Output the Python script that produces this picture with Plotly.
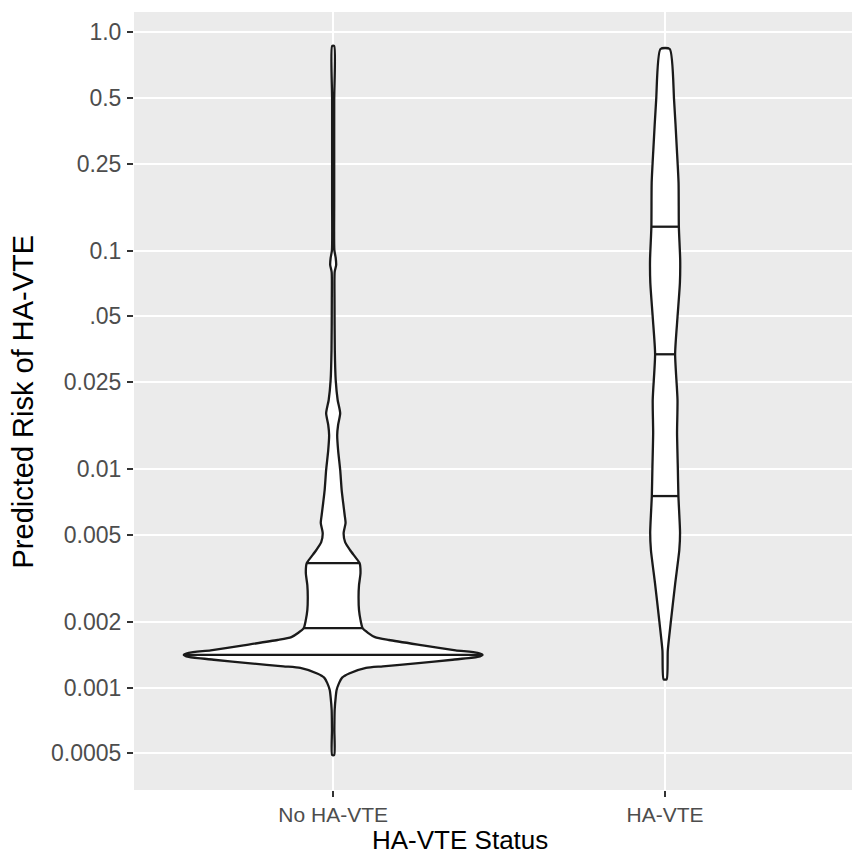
import numpy as np
import plotly.graph_objects as go

# Groups on the x axis
groups = ["No HA-VTE", "HA-VTE"]

# Density profile of predicted risk, No HA-VTE group
# (risk value, relative density scaled so the widest peak = 1)
no_vte_risk = [0.863, 0.488, 0.170, 0.1005, 0.0924, 0.0858, 0.0797, 0.0594,
               0.0350, 0.0255, 0.0207, 0.0180, 0.0159, 0.0143, 0.0122, 0.00990,
               0.00801, 0.00699, 0.00616, 0.00566, 0.00510, 0.00463, 0.00426,
               0.00396, 0.00371, 0.00334, 0.00294, 0.00260, 0.00226, 0.00204,
               0.00187, 0.00178, 0.00170, 0.00165, 0.00156, 0.00148, 0.00144,
               0.00141, 0.00138, 0.00134, 0.00129, 0.00125, 0.00123, 0.00116,
               0.00111, 0.00105, 0.000974, 0.000904, 0.000789, 0.000639, 0.000491]
no_vte_density = [0.007, 0.007, 0.007, 0.008, 0.017, 0.020, 0.010, 0.009,
                  0.011, 0.017, 0.030, 0.047, 0.033, 0.027, 0.033, 0.047,
                  0.057, 0.067, 0.077, 0.083, 0.070, 0.080, 0.113,
                  0.147, 0.177, 0.183, 0.173, 0.170, 0.173, 0.183,
                  0.197, 0.233, 0.280, 0.373, 0.600, 0.820, 0.967,
                  1.000, 0.967, 0.800, 0.553, 0.333, 0.220, 0.107,
                  0.060, 0.040, 0.023, 0.017, 0.010, 0.008, 0.007]
no_vte_quantiles = [0.00141, 0.00187, 0.00371]

# Density profile of predicted risk, HA-VTE group
vte_risk = [0.836, 0.488, 0.288, 0.204, 0.128, 0.0905, 0.0710, 0.0496, 0.0336,
            0.0207, 0.0146, 0.0102, 0.00752, 0.00510, 0.00426, 0.00301, 0.00199,
            0.00148, 0.00109]
vte_density = [0.031, 0.060, 0.079, 0.090, 0.092, 0.101, 0.099, 0.083, 0.067,
               0.083, 0.080, 0.085, 0.089, 0.100, 0.095, 0.068, 0.038,
               0.018, 0.010]
vte_quantiles = [0.00752, 0.0335, 0.1285]

# Log-scale tick marks
tick_values = [1.0, 0.5, 0.25, 0.1, 0.05, 0.025, 0.01, 0.005, 0.002, 0.001, 0.0005]
tick_labels = ["1.0", "0.5", "0.25", "0.1", ".05", "0.025", "0.01", "0.005",
               "0.002", "0.001", "0.0005"]

HALF_WIDTH = 0.45  # max half-width of a violin in category units
LINE = "#1a1a1a"
LW = 2.3

fig = go.Figure()

profiles = [
    (no_vte_risk, no_vte_density, no_vte_quantiles),
    (vte_risk, vte_density, vte_quantiles),
]

for pos, (risk, dens, quants) in enumerate(profiles):
    risk = np.asarray(risk, dtype=float)
    dens = np.asarray(dens, dtype=float)
    half = HALF_WIDTH * dens
    # closed outline: right side top->bottom, left side bottom->top
    xs = np.concatenate([pos + half, (pos - half)[::-1], [pos + half[0]]])
    ys = np.concatenate([risk, risk[::-1], [risk[0]]])
    fig.add_trace(go.Scatter(
        x=xs, y=ys, mode="lines", fill="toself", fillcolor="white",
        line=dict(color=LINE, width=LW, shape="spline", smoothing=0.6),
        hoverinfo="skip", showlegend=False,
    ))
    # quantile lines span the violin width at each quantile
    logr = np.log10(risk)[::-1]
    hw = half[::-1]
    for q in quants:
        w = np.interp(np.log10(q), logr, hw)
        fig.add_trace(go.Scatter(
            x=[pos - w, pos + w], y=[q, q], mode="lines",
            line=dict(color=LINE, width=LW), hoverinfo="skip", showlegend=False,
        ))

FONT = "Liberation Sans, Arial, sans-serif"
x_tick_font = dict(family=FONT, size=21, color="#4D4D4D")
y_tick_font = dict(family=FONT, size=23, color="#4D4D4D")

fig.update_layout(
    width=852, height=857,
    margin=dict(l=134, r=0, t=12, b=67),
    paper_bgcolor="white",
    plot_bgcolor="#EBEBEB",
    showlegend=False,
    xaxis=dict(
        range=[-0.6, 1.563],
        tickmode="array", tickvals=list(range(len(groups))), ticktext=groups,
        showgrid=True, gridcolor="white", gridwidth=2.4, zeroline=False,
        ticks="outside", ticklen=6, tickwidth=2, tickcolor="#333333",
        tickfont=x_tick_font, showline=False,
    ),
    yaxis=dict(
        type="log", range=[-3.469, 0.0915],
        tickmode="array", tickvals=tick_values, ticktext=tick_labels,
        showgrid=True, gridcolor="white", gridwidth=2.4, zeroline=False,
        ticks="outside", ticklen=6, tickwidth=2, tickcolor="#333333",
        tickfont=y_tick_font, showline=False, ticklabelstandoff=1,
    ),
    annotations=[
        dict(text="HA-VTE Status", xref="paper", yref="paper",
             x=0.454, y=-0.0861, xanchor="center", yanchor="bottom",
             showarrow=False, font=dict(family=FONT, size=26, color="#000000")),
        dict(text="Predicted Risk of HA-VTE", xref="paper", yref="paper",
             x=-0.1539, y=0.5, xanchor="center", yanchor="middle",
             textangle=-90, showarrow=False,
             font=dict(family=FONT, size=29, color="#000000")),
    ],
)

fig.write_html("out.html")
